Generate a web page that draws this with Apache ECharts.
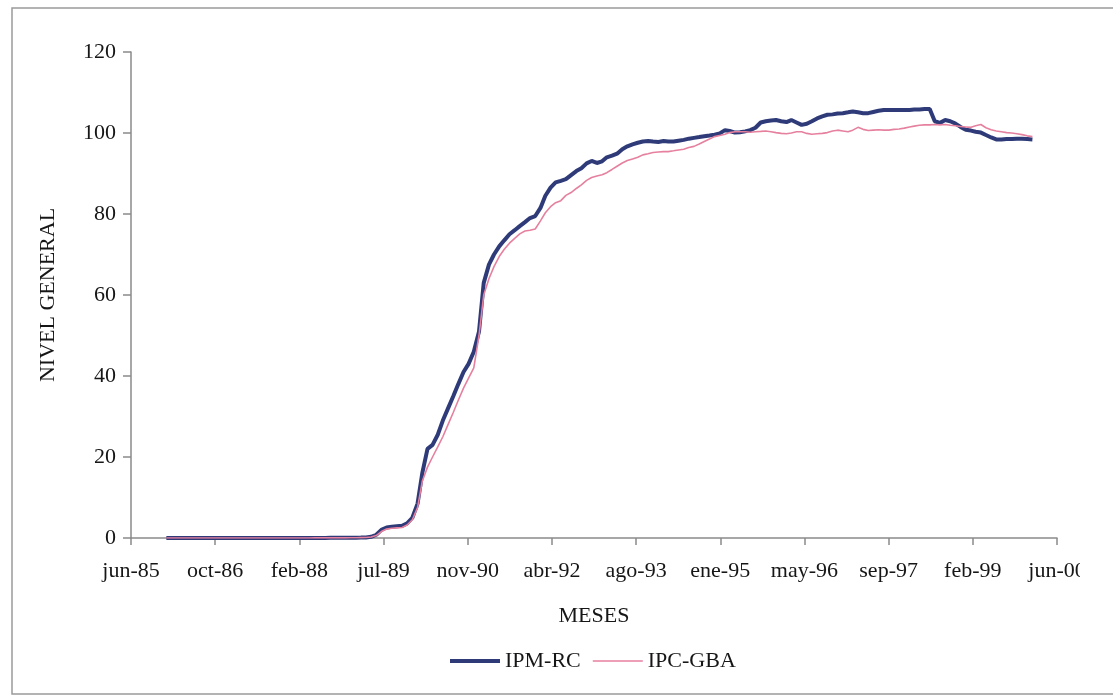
<!DOCTYPE html>
<html>
<head>
<meta charset="utf-8">
<script src="https://cdn.jsdelivr.net/npm/echarts@6/dist/echarts.min.js"></script>
<style>
  html, body { margin: 0; padding: 0; background: #ffffff; }
  #chart { width: 1113px; height: 696px; }
</style>
</head>
<body>
<div id="chart"></div>
<script>
// Axis tick labels, one every 500 days starting at the origin date below
const tickLabels = ['jun-85', 'oct-86', 'feb-88', 'jul-89', 'nov-90', 'abr-92',
  'ago-93', 'ene-95', 'may-96', 'sep-97', 'feb-99', 'jun-00'];

// Monthly series, January 1986 to February 2000
const firstYear = 1986;
const firstMonth = 0;

const ipmRC = [
  // 1986
  0.002, 0.002, 0.002, 0.002, 0.002, 0.003, 0.003, 0.003, 0.003, 0.003, 0.004, 0.004,
  // 1987
  0.004, 0.004, 0.005, 0.005, 0.005, 0.005, 0.006, 0.007, 0.008, 0.010, 0.011, 0.011,
  // 1988
  0.012, 0.013, 0.015, 0.017, 0.020, 0.023, 0.026, 0.030, 0.032, 0.033, 0.035, 0.038,
  // 1989
  0.06, 0.07, 0.10, 0.15, 0.3, 0.8, 2.0, 2.6, 2.8, 2.9, 3.0, 3.6,
  // 1990
  5.0, 8.5, 16, 22, 23, 25.5, 29, 32, 35, 38, 41, 43,
  // 1991
  46, 51, 63, 67.5, 70, 72, 73.5, 75, 76, 77, 78, 79,
  // 1992
  79.5, 81.5, 84.5, 86.5, 87.8, 88.2, 88.6, 89.6, 90.6, 91.3, 92.5, 93.1,
  // 1993
  92.6, 93, 94, 94.4, 94.9, 96, 96.7, 97.2, 97.6, 97.9, 98.0, 97.9,
  // 1994
  97.8, 98.0, 97.9, 97.9, 98.1, 98.3, 98.6, 98.8, 99.0, 99.2, 99.4, 99.6,
  // 1995
  99.9, 100.7, 100.5, 100.1, 100.2, 100.4, 100.7, 101.3, 102.6, 102.9, 103.1, 103.2,
  // 1996
  102.9, 102.7, 103.2, 102.6, 102.0, 102.3, 102.9, 103.6, 104.1, 104.5, 104.6, 104.8,
  // 1997
  104.9, 105.1, 105.3, 105.1, 104.9, 104.9, 105.2, 105.5, 105.7, 105.7, 105.7, 105.7,
  // 1998
  105.7, 105.7, 105.8, 105.8, 105.9, 105.9, 102.9, 102.5, 103.2, 102.9, 102.3, 101.5,
  // 1999
  100.8, 100.6, 100.3, 100.1, 99.5, 98.9, 98.4, 98.4, 98.5, 98.5, 98.6, 98.6,
  // 2000
  98.5, 98.4
];

const ipcGBA = [
  // 1986
  0.002, 0.002, 0.002, 0.002, 0.002, 0.002, 0.003, 0.003, 0.003, 0.003, 0.003, 0.004,
  // 1987
  0.004, 0.004, 0.004, 0.005, 0.005, 0.005, 0.006, 0.006, 0.007, 0.009, 0.010, 0.010,
  // 1988
  0.011, 0.012, 0.014, 0.016, 0.018, 0.021, 0.024, 0.028, 0.030, 0.031, 0.033, 0.036,
  // 1989
  0.05, 0.06, 0.09, 0.12, 0.25, 0.6, 1.6, 2.2, 2.4, 2.5, 2.6, 3.2,
  // 1990
  4.5, 7.5, 14, 17.5, 20, 22.5, 25, 28, 31, 34, 37, 39.5,
  // 1991
  42, 50, 60, 64, 67, 69.5, 71.3, 72.8, 74, 75.1, 75.8, 76,
  // 1992
  76.3, 78.3, 80.3, 81.8, 82.8, 83.3, 84.6, 85.3, 86.3, 87.2, 88.3, 89,
  // 1993
  89.4, 89.7, 90.2, 91, 91.8, 92.6, 93.2, 93.6, 94, 94.6, 94.9, 95.2,
  // 1994
  95.3, 95.4, 95.4, 95.6, 95.8, 96.0, 96.4, 96.7, 97.3, 97.9, 98.5, 99.1,
  // 1995
  99.4, 99.7, 100.1, 100.3, 100.3, 100.3, 100.2, 100.3, 100.4, 100.5, 100.3, 100.1,
  // 1996
  99.9, 99.8, 100.0, 100.3, 100.3, 99.9, 99.7, 99.8, 99.9, 100.1, 100.5, 100.7,
  // 1997
  100.5, 100.3, 100.7, 101.4, 100.9, 100.6, 100.7, 100.8, 100.7, 100.7, 100.9, 101.0,
  // 1998
  101.2, 101.5, 101.7, 101.9, 102.0, 102.0, 102.1, 102.0, 102.1, 101.9, 101.8, 101.6,
  // 1999
  101.5, 101.4, 101.8, 102.1, 101.3, 100.8, 100.5, 100.3, 100.1, 100.0, 99.8, 99.6,
  // 2000
  99.3, 99.1
];

// Horizontal axis counts days from this origin
const originUTC = Date.UTC(1985, 5, 5);
const DAY = 86400000;

function monthDay(i) {
  const y = firstYear + Math.floor((firstMonth + i) / 12);
  const m = (firstMonth + i) % 12;
  return (Date.UTC(y, m, 1) - originUTC) / DAY;
}

function toPoints(values) {
  return values.map((v, i) => [monthDay(i), v]);
}

const FONT = '"Liberation Serif", "Times New Roman", serif';
const AXIS_GREY = '#8a8a8a';
const TEXT = '#161616';
const BLUE = '#2e3b78';
const PINK = '#e6809f';

// Legend keys drawn as plain strokes: a thick one and a thin one in the same box
const KEY_THICK = 'path://M0,0h0.01v6h-0.01zM0,1h50v4h-50z';
const KEY_THIN = 'path://M0,0h0.01v6h-0.01zM0,2.2h50v1.6h-50z';

const chart = echarts.init(document.getElementById('chart'), null, { renderer: 'canvas' });

chart.setOption({
  animation: false,
  backgroundColor: '#ffffff',
  grid: { left: 131, right: 56, top: 52, bottom: 158, containLabel: false },
  xAxis: {
    type: 'value',
    min: 0,
    max: 500 * (tickLabels.length - 1),
    interval: 500,
    name: 'MESES',
    nameLocation: 'middle',
    nameGap: 67,
    nameTextStyle: { fontFamily: FONT, fontSize: 22, color: TEXT },
    axisLine: { show: true, lineStyle: { color: AXIS_GREY, width: 1.5 } },
    axisTick: { show: true, inside: false, length: 7, lineStyle: { color: AXIS_GREY, width: 1.5 } },
    axisLabel: {
      margin: 22,
      fontFamily: FONT, fontSize: 22, color: TEXT,
      formatter: v => tickLabels[Math.round(v / 500)] || ''
    },
    splitLine: { show: false }
  },
  yAxis: {
    type: 'value',
    min: 0,
    max: 120,
    interval: 20,
    name: 'NIVEL GENERAL',
    nameLocation: 'middle',
    nameGap: 72,
    nameTextStyle: { fontFamily: FONT, fontSize: 22, color: TEXT },
    axisLine: { show: true, lineStyle: { color: AXIS_GREY, width: 1.5 } },
    axisTick: { show: true, inside: false, length: 8, lineStyle: { color: AXIS_GREY, width: 1.5 } },
    axisLabel: { margin: 15, fontFamily: FONT, fontSize: 22, color: TEXT },
    splitLine: { show: false }
  },
  legend: {
    left: 445,
    top: 645,
    itemWidth: 50,
    itemHeight: 6,
    itemGap: 12,
    textStyle: { fontFamily: FONT, fontSize: 22, color: TEXT },
    data: [
      { name: 'IPM-RC', icon: KEY_THICK },
      { name: 'IPC-GBA', icon: KEY_THIN }
    ]
  },
  series: [
    {
      name: 'IPM-RC',
      type: 'line',
      data: toPoints(ipmRC),
      showSymbol: false,
      symbol: 'none',
      color: BLUE,
      lineStyle: { color: BLUE, width: 4 }
    },
    {
      name: 'IPC-GBA',
      type: 'line',
      data: toPoints(ipcGBA),
      showSymbol: false,
      symbol: 'none',
      color: PINK,
      lineStyle: { color: PINK, width: 1.6 }
    }
  ],
  graphic: [
    // frame around the chart
    {
      type: 'rect', z: 100, silent: true,
      shape: { x: 12, y: 8, width: 1130, height: 686 },
      style: { fill: null, stroke: '#9a9a9a', lineWidth: 1.5 }
    },
    // chart area ends here on the right
    {
      type: 'rect', z: 90, silent: true,
      shape: { x: 1080, y: 548, width: 46, height: 50 },
      style: { fill: '#ffffff' }
    }
  ]
});
</script>
</body>
</html>
